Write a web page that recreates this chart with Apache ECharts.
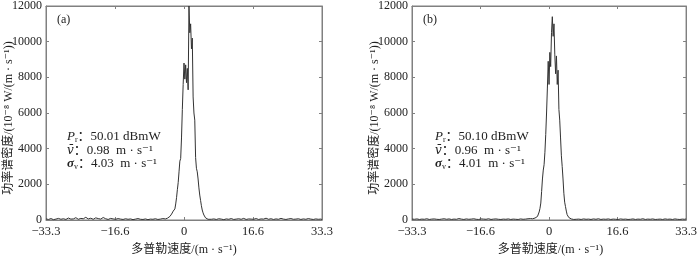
<!DOCTYPE html>
<html lang="zh">
<head>
    <meta charset="UTF-8">
    <title>多普勒谱</title>
    <style>
        body { margin: 0; background: #fff; }
        #chart { width: 700px; height: 258px; }
    </style>
</head>
<body>
    <div id="chart"></div>
    <script src="https://cdn.jsdelivr.net/npm/echarts@6/dist/echarts.min.js"></script>
    <script>
        // velocity grid, m/s (coarse in the tails, fine across the peak)
        const vel = [
            -33.3, -32.7, -32.1, -31.5, -30.9, -30.3, -29.7, -29.1, -28.5, -27.9,
            -27.3, -26.7, -26.1, -25.5, -24.9, -24.3, -23.7, -23.1, -22.5, -21.9,
            -21.3, -20.7, -20.1, -19.5, -18.9, -18.3, -17.7, -17.1, -16.5, -15.9,
            -15.3, -14.7, -14.1, -13.5, -12.9, -12.3, -11.7, -11.1, -10.5, -9.9,
            -9.3, -8.7, -8.1, -7.5, -6.9, -6.3, -5.7, -5.1, -4.5,
            -4.2, -4.0, -3.8, -3.6, -3.4, -3.2, -3.0, -2.8, -2.6, -2.4,
            -2.2, -2.0, -1.8, -1.6, -1.4, -1.2, -1.0, -0.8, -0.6, -0.4,
            -0.2, 0, 0.2, 0.4, 0.6, 0.8, 1.0, 1.2, 1.4, 1.6,
            1.8, 2.0, 2.2, 2.4, 2.6, 2.8, 3.0, 3.2, 3.4, 3.6,
            3.8, 4.0, 4.2, 4.4, 4.6, 4.8, 5.0, 5.2, 5.4, 5.6,
            5.8, 6.0,
            6.6, 7.2, 7.8, 8.4, 9.0, 9.6, 10.2, 10.8, 11.4, 12.0,
            12.6, 13.2, 13.8, 14.4, 15.0, 15.6, 16.2, 16.8, 17.4, 18.0,
            18.6, 19.2, 19.8, 20.4, 21.0, 21.6, 22.2, 22.8, 23.4, 24.0,
            24.6, 25.2, 25.8, 26.4, 27.0, 27.6, 28.2, 28.8, 29.4, 30.0,
            30.6, 31.2, 31.8, 32.4, 33.0, 33.3
        ];

        // power spectral density, 10^-8 W/(m·s^-1)
        const powA = [
            60, 30, 80, 20, 50, 90, 40, 70, 30, 110,
            50, 60, 130, 40, 90, 70, 150, 60, 100, 40,
            120, 80, 50, 140, 70, 30, 90, 60, 40, 80,
            50, 30, 70, 40, 60, 20, 50, 80, 40, 30,
            60, 20, 50, 40, 70, 30, 50, 80, 60,
            80, 100, 120, 150, 200, 260, 330, 420, 500, 560,
            620, 900, 1250, 1700, 2100, 2700, 3300, 3450, 4600, 6200,
            7600, 8800, 7900, 8700, 7700, 8500, 7300, 12000, 10500, 11000,
            9600, 10200, 6900, 6000, 5600, 3500, 2900, 2700, 2300, 1800,
            1400, 1100, 800, 560, 400, 280, 180, 120, 80, 50,
            40, 30,
            40, 60, 30, 70, 50, 20, 60, 40, 80, 30,
            50, 70, 40, 90, 30, 60, 50, 40, 80, 30,
            60, 50, 100, 40, 70, 30, 60, 40, 90, 50,
            30, 60, 80, 40, 50, 70, 30, 60, 40, 80,
            50, 30, 60, 40, 50, 30
        ];

        const powB = [
            50, 40, 60, 30, 50, 40, 70, 30, 50, 60,
            40, 30, 50, 70, 40, 60, 30, 50, 40, 80,
            50, 30, 60, 40, 50, 70, 40, 30, 60, 50,
            40, 70, 30, 50, 60, 40, 30, 50, 40, 60,
            30, 50, 40, 30, 60, 40, 50, 70, 80,
            60, 70, 80, 100, 110, 130, 150, 200, 300, 450,
            650, 950, 1600, 2300, 2800, 3100, 3800, 4800, 6000, 7400,
            8900, 7600, 9400, 8600, 10500, 11400, 10300, 11000, 9300, 8200,
            9200, 7600, 8400, 6200, 5600, 4600, 3600, 3000, 2300, 1500,
            1000, 750, 500, 300, 200, 140, 100, 70, 60, 40,
            50, 30,
            40, 50, 30, 60, 40, 50, 30, 60, 40, 70,
            30, 50, 40, 60, 30, 50, 40, 30, 60, 40,
            50, 30, 40, 60, 30, 50, 40, 70, 30, 50,
            40, 60, 30, 40, 50, 30, 60, 40, 50, 30,
            60, 40, 30, 50, 40, 60
        ];

        const xTickLabels = ['−33.3', '−16.6', '0', '16.6', '33.3'];
        const panelTags = ['(a)', '(b)'];
        const statsPr = ['50.01 dBmW', '50.10 dBmW'];
        const statsMean = ['0.98  m · s⁻¹', '0.96  m · s⁻¹'];
        const statsWidth = ['4.03  m · s⁻¹', '4.01  m · s⁻¹'];

        const yTitle = '功率谱密度/(10⁻⁸ W/(m · s⁻¹))';
        const xTitle = '多普勒速度/(m · s⁻¹)';

        const FONT = "'Liberation Serif', 'DejaVu Serif', 'Noto Sans CJK SC', serif";
        const frame = '#808080';
        const ink = '#222';

        // plot boxes in pixels
        const boxes = [
            { left: 46, top: 4, width: 276, height: 216 },
            { left: 412, top: 4, width: 277, height: 216 }
        ];

        const grids = [], xAxes = [], yAxes = [], series = [], graphics = [];

        const tickStyle = { show: true, inside: true, length: 3, lineStyle: { color: frame } };
        const lineStyle = { show: true, onZero: false, lineStyle: { color: frame } };

        boxes.forEach((b, i) => {
            grids.push({ left: b.left, top: b.top, width: b.width, height: b.height,
                show: true, borderColor: frame, borderWidth: 1 });

            const xBase = {
                type: 'value', gridIndex: i, min: -33.3, max: 33.3, interval: 16.65,
                axisLine: lineStyle, axisTick: tickStyle, splitLine: { show: false }
            };
            xAxes.push(Object.assign({}, xBase, {
                position: 'bottom',
                axisLabel: {
                    color: ink, fontFamily: FONT, fontSize: 12.5, margin: 5,
                    formatter: v => xTickLabels[Math.round(v / 16.65) + 2]
                }
            }));
            xAxes.push(Object.assign({}, xBase, { position: 'top', axisLabel: { show: false } }));

            const yBase = {
                type: 'value', gridIndex: i, min: 0, max: 12000, interval: 2000,
                axisLine: lineStyle, axisTick: tickStyle, splitLine: { show: false }
            };
            yAxes.push(Object.assign({}, yBase, {
                position: 'left',
                axisLabel: { color: ink, fontFamily: FONT, fontSize: 12, margin: 4,
                    formatter: v => String(v) }
            }));
            yAxes.push(Object.assign({}, yBase, { position: 'right', axisLabel: { show: false } }));

            const pow = i === 0 ? powA : powB;
            series.push({
                type: 'line', xAxisIndex: i * 2, yAxisIndex: i * 2,
                data: vel.map((v, k) => [v, pow[k]]),
                showSymbol: false, clip: true,
                lineStyle: { color: '#333', width: 1 }
            });

            const cx = b.left + b.width / 2;
            const textStyle = { fill: ink, font: '12px ' + FONT };

            // axis titles
            graphics.push({ type: 'text', x: cx, y: 250,
                style: Object.assign({ text: xTitle, textAlign: 'center', textVerticalAlign: 'middle' }, textStyle) });
            graphics.push({ type: 'text', x: b.left - 37, y: 118, rotation: Math.PI / 2,
                style: Object.assign({ text: yTitle, textAlign: 'center', textVerticalAlign: 'middle' }, textStyle) });

            // panel tag
            graphics.push({ type: 'text', x: b.left + 11, y: 20,
                style: Object.assign({ text: panelTags[i], textAlign: 'left', textVerticalAlign: 'middle' }, textStyle) });

            // stats block
            const rich = {
                it: { fontFamily: FONT, fontSize: 13, fontStyle: 'italic', fill: ink },
                vb: { fontFamily: "'DejaVu Serif', serif", fontSize: 12, fontStyle: 'italic', fill: ink },
                sb: { fontFamily: FONT, fontSize: 13, fontStyle: 'italic', fontWeight: 'bold', fill: ink },
                sub: { fontFamily: FONT, fontSize: 8, fill: ink, verticalAlign: 'bottom', padding: [5, 0, 0, 0] },
                t: { fontFamily: FONT, fontSize: 13, fill: ink }
            };
            const sx = b.left + 21 + (i === 1 ? 2 : 0);
            const lines = [
                '{it|P}{sub|r}{t|：' + statsPr[i] + '}',
                '{vb|v̄}{t|：' + statsMean[i] + '}',
                '{sb|σ}{sub|v}{t|：' + statsWidth[i] + '}'
            ];
            lines.forEach((ln, k) => {
                graphics.push({ type: 'text', x: sx, y: 137 + k * 13.5,
                    style: { text: ln, rich: rich, textAlign: 'left', textVerticalAlign: 'middle', fill: ink, font: '12px ' + FONT } });
            });
        });

        const chart = echarts.init(document.getElementById('chart'));
        chart.setOption({
            animation: false,
            grid: grids,
            xAxis: xAxes,
            yAxis: yAxes,
            series: series,
            graphic: graphics
        });
    </script>
</body>
</html>
